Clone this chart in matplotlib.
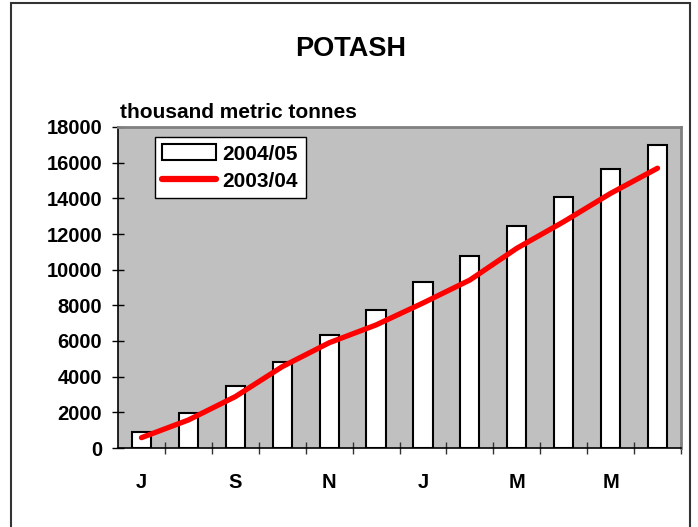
import numpy as np
import matplotlib

matplotlib.use("Agg")
import matplotlib.pyplot as plt
from matplotlib.patches import Rectangle

plt.rcParams["font.family"] = ["Liberation Sans", "DejaVu Sans"]
plt.rcParams["font.weight"] = "bold"

# crop year July..June
months = ["J", "A", "S", "O", "N", "D", "J", "F", "M", "A", "M", "J"]
tonnes_2004_05 = [880, 1950, 3460, 4810, 6360, 7750, 9300, 10780, 12450, 14060, 15630, 16980]
tonnes_2003_04 = [580, 1570, 2880, 4560, 5900, 6900, 8130, 9420, 11200, 12690, 14280, 15690]
yticks = list(range(0, 18001, 2000))

fig = plt.figure(figsize=(6.98, 5.27), dpi=100)

# outer chart border (bottom edge runs off the image)
fig.patches.append(Rectangle((11 / 698, -0.05), 679 / 698, 1 - 3 / 527 + 0.05,
                             transform=fig.transFigure, fill=False,
                             edgecolor="#333333", linewidth=1.5))

ax = fig.add_axes([118 / 698, 79 / 527, 563 / 698, 321 / 527])
ax.set_facecolor("#C0C0C0")

x = np.arange(len(months))
bars = ax.bar(x, tonnes_2004_05, width=0.41, color="white", edgecolor="black",
              linewidth=1.5, label="2004/05", zorder=2)
line, = ax.plot(x, tonnes_2003_04, color="red", linewidth=3.8, solid_capstyle="round",
                label="2003/04", zorder=3)

ax.set_xlim(-0.5, len(months) - 0.5)
ax.set_ylim(0, 18000)

ax.set_yticks(yticks)
ax.set_yticklabels([str(v) for v in yticks], fontsize=14.5, fontweight="bold")
ax.tick_params(axis="y", direction="inout", length=9, width=1, pad=7)

ax.set_xticks(x)
ax.set_xticklabels([m if i % 2 == 0 else "" for i, m in enumerate(months)],
                   fontsize=14.5, fontweight="bold")
ax.tick_params(axis="x", which="major", length=0, pad=18)
ax.set_xticks(np.arange(0.5, len(months), 1.0), minor=True)
ax.tick_params(axis="x", which="minor", direction="inout", length=9, width=1, color="#333333")

for side in ["top", "right"]:
    ax.spines[side].set_color("#808080")
    ax.spines[side].set_linewidth(2)
for side in ["left", "bottom"]:
    ax.spines[side].set_color("black")
    ax.spines[side].set_linewidth(1.2)

leg = ax.legend([bars, line], ["2004/05", "2003/04"], loc="upper left",
                bbox_to_anchor=(155 / 698, 1 - 137 / 527),
                bbox_transform=fig.transFigure, borderaxespad=0, fancybox=False,
                framealpha=1, edgecolor="black", prop={"size": 15, "weight": "bold"},
                handlelength=2.6, handleheight=0.8, handletextpad=0.3,
                borderpad=0.35, labelspacing=0.4)
leg.get_frame().set_linewidth(1)
leg.get_lines()[0].set_linewidth(4.5) if leg.get_lines() else None

fig.text(351 / 698, (527 - 56) / 527, "POTASH", ha="center", va="baseline",
         fontsize=19.5, fontweight="bold")
fig.text(120 / 698, (527 - 118) / 527, "thousand metric tonnes", ha="left",
         va="baseline", fontsize=15, fontweight="bold")

fig.savefig("out.png", dpi=100)
